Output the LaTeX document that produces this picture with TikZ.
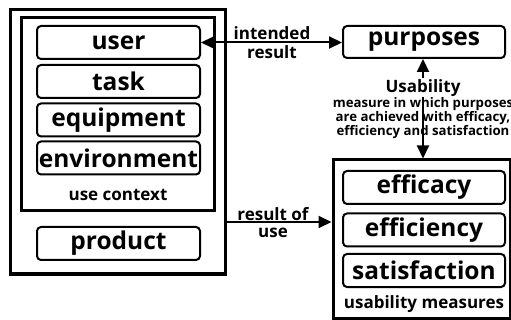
\documentclass[tikz,border=0pt]{standalone}
\usepackage{fontspec}
\setmainfont{Open Sans}
\usetikzlibrary{arrows.meta}

\tikzset{
  itembox/.style={draw, line width=2, rounded corners=4, inner sep=0,
    minimum width=163, minimum height=33,
    font=\bfseries\fontsize{24.5}{28}\selectfont},
  frame/.style={draw, line width=3, inner sep=0},
  caption/.style={inner sep=0, font=\bfseries\fontsize{17}{19}\selectfont},
  small/.style={inner sep=0, align=center, font=\bfseries\fontsize{13.2}{10.2}\selectfont},
  link/.style={line width=2, >={Triangle[length=13pt,width=12pt]}}
}

\begin{document}
\begin{tikzpicture}[x=1pt, y=-1pt]
  \useasboundingbox[fill=white] (0,0) rectangle (511,320);

  % system: use context plus product
  \node[frame, minimum width=215, minimum height=264] (sys) at (117.5,142) {};
  \node[frame, minimum width=192.5, minimum height=193.5] (ctx) at (117.75,114.25) {};
  \node[itembox] (user) at (118.5,42.5) {user};
  \node[itembox] (task) at (118.5,81.5) {task};
  \node[itembox] (equip) at (118.5,120) {equipment};
  \node[itembox] (env) at (118.5,158) {environment};
  \node[caption] (ctxlabel) at (118,195) {use context};
  \node[itembox] (product) at (118.5,243.5) {product};

  % purposes
  \node[itembox, minimum width=162, minimum height=32] (purposes) at (424,42) {purposes};

  % usability measures
  \node[frame, minimum width=177, minimum height=158.5] (um) at (421.5,239.25) {};
  \node[itembox, minimum width=162] (efficacy) at (424,187.5) {efficacy};
  \node[itembox, minimum width=162] (efficiency) at (424,230) {efficiency};
  \node[itembox, minimum width=162] (satisfaction) at (424,270.5) {satisfaction};
  \node[caption] (umlabel) at (424,304) {usability measures};

  % connectors
  \draw[link, <->] (user.east) -- (user.east -| purposes.west);
  \node[caption] (intended) at (272,33) {intended};
  \node[caption] (result) at (272,52) {result};

  \coordinate (useout) at (sys.east |- 0,222);
  \draw[link, ->] (useout) -- (useout -| um.west);
  \node[caption] (resultof) at (273,214) {result of};
  \node[caption] (use) at (273,233) {use};

  \coordinate (ptop) at (423,0);
  \draw[link, <->] (ptop |- purposes.south) -- (ptop |- um.north);
  \node[caption, fill=white, inner sep=1] (usab) at (423,88) {Usability};
  \node[small] (desc) at (423,118) {measure in which purposes\\are achieved with efficacy,\\efficiency and satisfaction};
\end{tikzpicture}
\end{document}
